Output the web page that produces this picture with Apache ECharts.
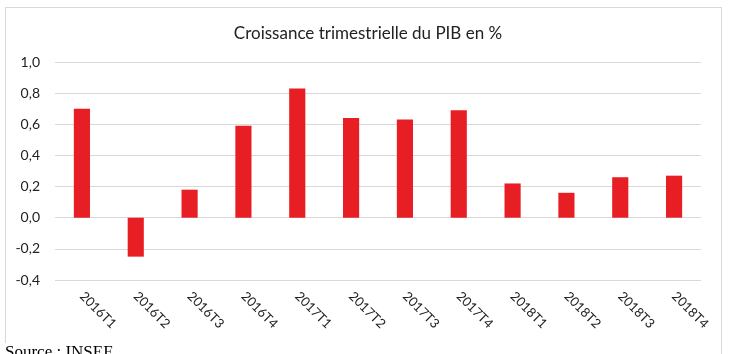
<!DOCTYPE html>
<html>
<head>
<meta charset="utf-8">
<script src="https://cdn.jsdelivr.net/npm/echarts@6/dist/echarts.min.js"></script>
<style>
  html, body { margin: 0; padding: 0; background: #fff; }
  #chart { width: 739px; height: 354px; }
</style>
</head>
<body>
<div id="chart"></div>
<script>
// Quarterly GDP growth
const quarters = ['2016T1', '2016T2', '2016T3', '2016T4', '2017T1', '2017T2',
  '2017T3', '2017T4', '2018T1', '2018T2', '2018T3', '2018T4']
const growth = [0.70, -0.25, 0.18, 0.59, 0.83, 0.64, 0.63, 0.69, 0.22, 0.16, 0.26, 0.27]
const yTicks = { min: -0.4, max: 1.0, step: 0.2 }

const chart = echarts.init(document.getElementById('chart'))

const frame = '#d9d9d9'

chart.setOption({
  animation: false,
  backgroundColor: '#fff',
  title: {
    text: 'Croissance trimestrielle du PIB en %',
    left: 363,
    top: 20,
    textAlign: 'center',
    textStyle: { fontFamily: 'Lato', fontSize: 17, fontWeight: 'normal', color: '#222' },
  },
  grid: { left: 55, right: 38, top: 62, bottom: 74 },
  xAxis: {
    type: 'category',
    data: quarters,
    axisLine: { show: false },
    axisTick: { show: false },
    axisLabel: {
      rotate: -45,
      margin: 14,
      interval: 0,
      fontFamily: 'Lato',
      fontSize: 13,
      color: '#222',
    },
  },
  yAxis: {
    type: 'value',
    min: yTicks.min,
    max: yTicks.max,
    interval: yTicks.step,
    axisLine: { show: false },
    axisTick: { show: false },
    splitLine: { lineStyle: { color: frame, width: 1 } },
    axisLabel: {
      margin: 15,
      fontFamily: 'Lato',
      fontSize: 14,
      color: '#222',
      formatter: v => v.toFixed(1).replace('.', ','),
    },
  },
  series: [
    {
      type: 'bar',
      data: growth,
      barWidth: '30%',
      itemStyle: { color: '#E81E25' },
    },
  ],
  graphic: [
    { type: 'line', shape: { x1: 5, y1: 7.5, x2: 722, y2: 7.5 }, style: { stroke: frame, lineWidth: 1 } },
    { type: 'line', shape: { x1: 5.5, y1: 7, x2: 5.5, y2: 343 }, style: { stroke: frame, lineWidth: 1 } },
    { type: 'line', shape: { x1: 721.5, y1: 7, x2: 721.5, y2: 354 }, style: { stroke: frame, lineWidth: 1 } },
    {
      type: 'text',
      left: 5,
      top: 344,
      style: { text: 'Source : INSEE', font: '17px "Liberation Serif"', fill: '#000' },
    },
  ],
})
</script>
</body>
</html>
